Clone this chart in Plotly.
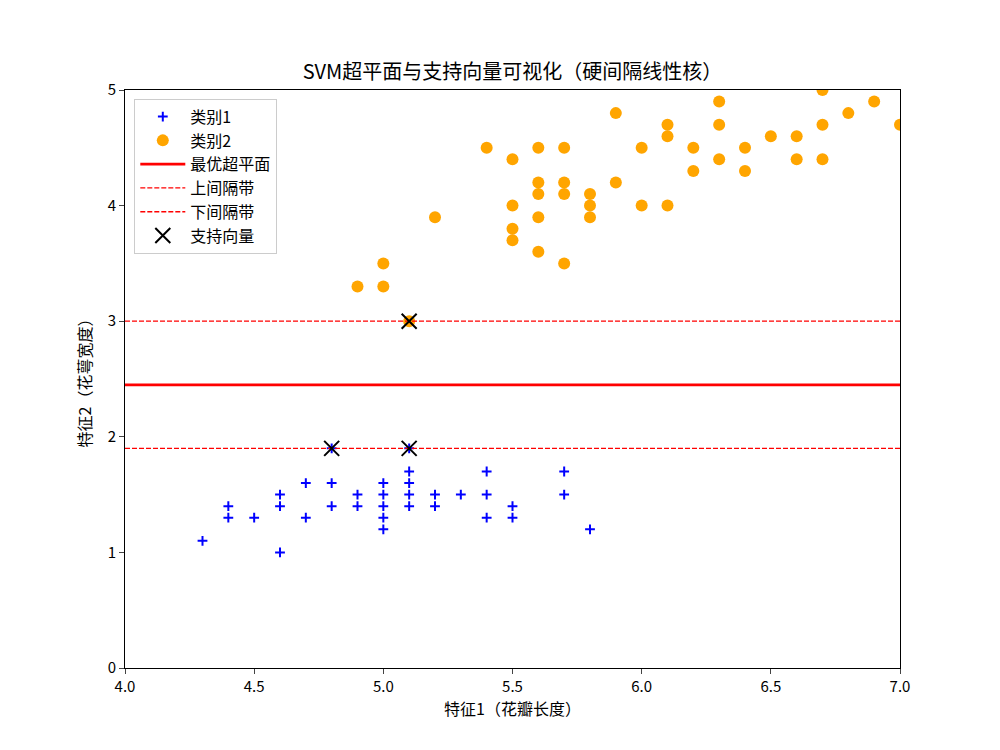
import plotly.graph_objects as go

# 类别1 (setosa-like)
c1_x = [4.3, 4.4, 4.4, 4.5, 4.6, 4.6, 4.6, 4.7, 4.7, 4.8, 4.8, 4.8,
        4.9, 4.9, 5.0, 5.0, 5.0, 5.0, 5.0, 5.1, 5.1, 5.1, 5.1, 5.1,
        5.2, 5.2, 5.3, 5.4, 5.4, 5.4, 5.5, 5.5, 5.7, 5.7, 5.8]
c1_y = [1.1, 1.4, 1.3, 1.3, 1.5, 1.4, 1.0, 1.6, 1.3, 1.6, 1.4, 1.9,
        1.5, 1.4, 1.6, 1.5, 1.4, 1.3, 1.2, 1.9, 1.7, 1.6, 1.5, 1.4,
        1.5, 1.4, 1.5, 1.7, 1.5, 1.3, 1.4, 1.3, 1.7, 1.5, 1.2]

# 类别2 (versicolor-like)
c2_x = [4.9, 5.0, 5.0, 5.1, 5.2, 5.4, 5.5, 5.5, 5.5, 5.5,
        5.6, 5.6, 5.6, 5.6, 5.6, 5.7, 5.7, 5.7, 5.7, 5.8, 5.8, 5.8,
        5.9, 5.9, 6.0, 6.0, 6.1, 6.1, 6.1, 6.2, 6.2, 6.3, 6.3, 6.3,
        6.4, 6.4, 6.5, 6.6, 6.6, 6.7, 6.7, 6.7, 6.8, 6.9, 7.0]
c2_y = [3.3, 3.5, 3.3, 3.0, 3.9, 4.5, 4.4, 4.0, 3.8, 3.7,
        4.5, 4.2, 4.1, 3.9, 3.6, 4.5, 4.2, 4.1, 3.5, 4.1, 4.0, 3.9,
        4.8, 4.2, 4.5, 4.0, 4.7, 4.6, 4.0, 4.5, 4.3, 4.9, 4.7, 4.4,
        4.5, 4.3, 4.6, 4.6, 4.4, 5.0, 4.7, 4.4, 4.8, 4.9, 4.7]

sv_x = [4.8, 5.1, 5.1]
sv_y = [1.9, 1.9, 3.0]

line_x = [4.0, 7.0]
hyper_y = 2.45
upper_y = 3.0
lower_y = 1.9

font = "Noto Sans CJK SC, SimHei, sans-serif"

fig = go.Figure()
fig.add_trace(go.Scatter(x=c1_x, y=c1_y, mode="markers", name="类别1",
                         marker=dict(symbol="cross-thin", size=7, color="blue",
                                     line=dict(width=2, color="blue"))))
fig.add_trace(go.Scatter(x=c2_x, y=c2_y, mode="markers", name="类别2",
                         marker=dict(symbol="circle", size=12, color="orange")))
fig.add_trace(go.Scatter(x=line_x, y=[hyper_y] * 2, mode="lines", name="最优超平面",
                         line=dict(color="red", width=2.7)))
fig.add_trace(go.Scatter(x=line_x, y=[upper_y] * 2, mode="lines", name="上间隔带",
                         line=dict(color="red", width=1.3, dash="5px,2px")))
fig.add_trace(go.Scatter(x=line_x, y=[lower_y] * 2, mode="lines", name="下间隔带",
                         line=dict(color="red", width=1.3, dash="5px,2px")))
fig.add_trace(go.Scatter(x=sv_x, y=sv_y, mode="markers", name="支持向量",
                         marker=dict(symbol="x-thin", size=15, color="black",
                                     line=dict(width=2, color="black"))))

fig.update_layout(
    width=1000, height=750,
    margin=dict(l=117, r=108, t=82, b=90),
    paper_bgcolor="white", plot_bgcolor="white",
    font=dict(family=font, size=15, color="black"),
    title=dict(text="SVM超平面与支持向量可视化（硬间隔线性核）", x=0.5, xanchor="center",
               xref="paper", y=0.915, yanchor="middle", font=dict(size=20)),
    legend=dict(x=0.012, y=0.985, xanchor="left", yanchor="top",
                bordercolor="#cccccc", borderwidth=1, bgcolor="rgba(255,255,255,0.8)",
                font=dict(size=16), itemwidth=45),
    showlegend=True,
)
fig.update_xaxes(range=[4.0, 7.0], tickvals=[4.0, 4.5, 5.0, 5.5, 6.0, 6.5, 7.0],
                 ticktext=["4.0", "4.5", "5.0", "5.5", "6.0", "6.5", "7.0"],
                 showline=True, linecolor="black", linewidth=1, mirror=True,
                 ticks="outside", ticklen=5, showgrid=False, zeroline=False,
                 title=dict(text="特征1（花瓣长度）", standoff=5, font=dict(size=16)))
fig.update_yaxes(range=[0, 5], tickvals=[0, 1, 2, 3, 4, 5],
                 showline=True, linecolor="black", linewidth=1, mirror=True,
                 ticks="outside", ticklen=5, showgrid=False, zeroline=False,
                 title=dict(text="特征2（花萼宽度）", standoff=12, font=dict(size=16)))

fig.write_html("out.html")
